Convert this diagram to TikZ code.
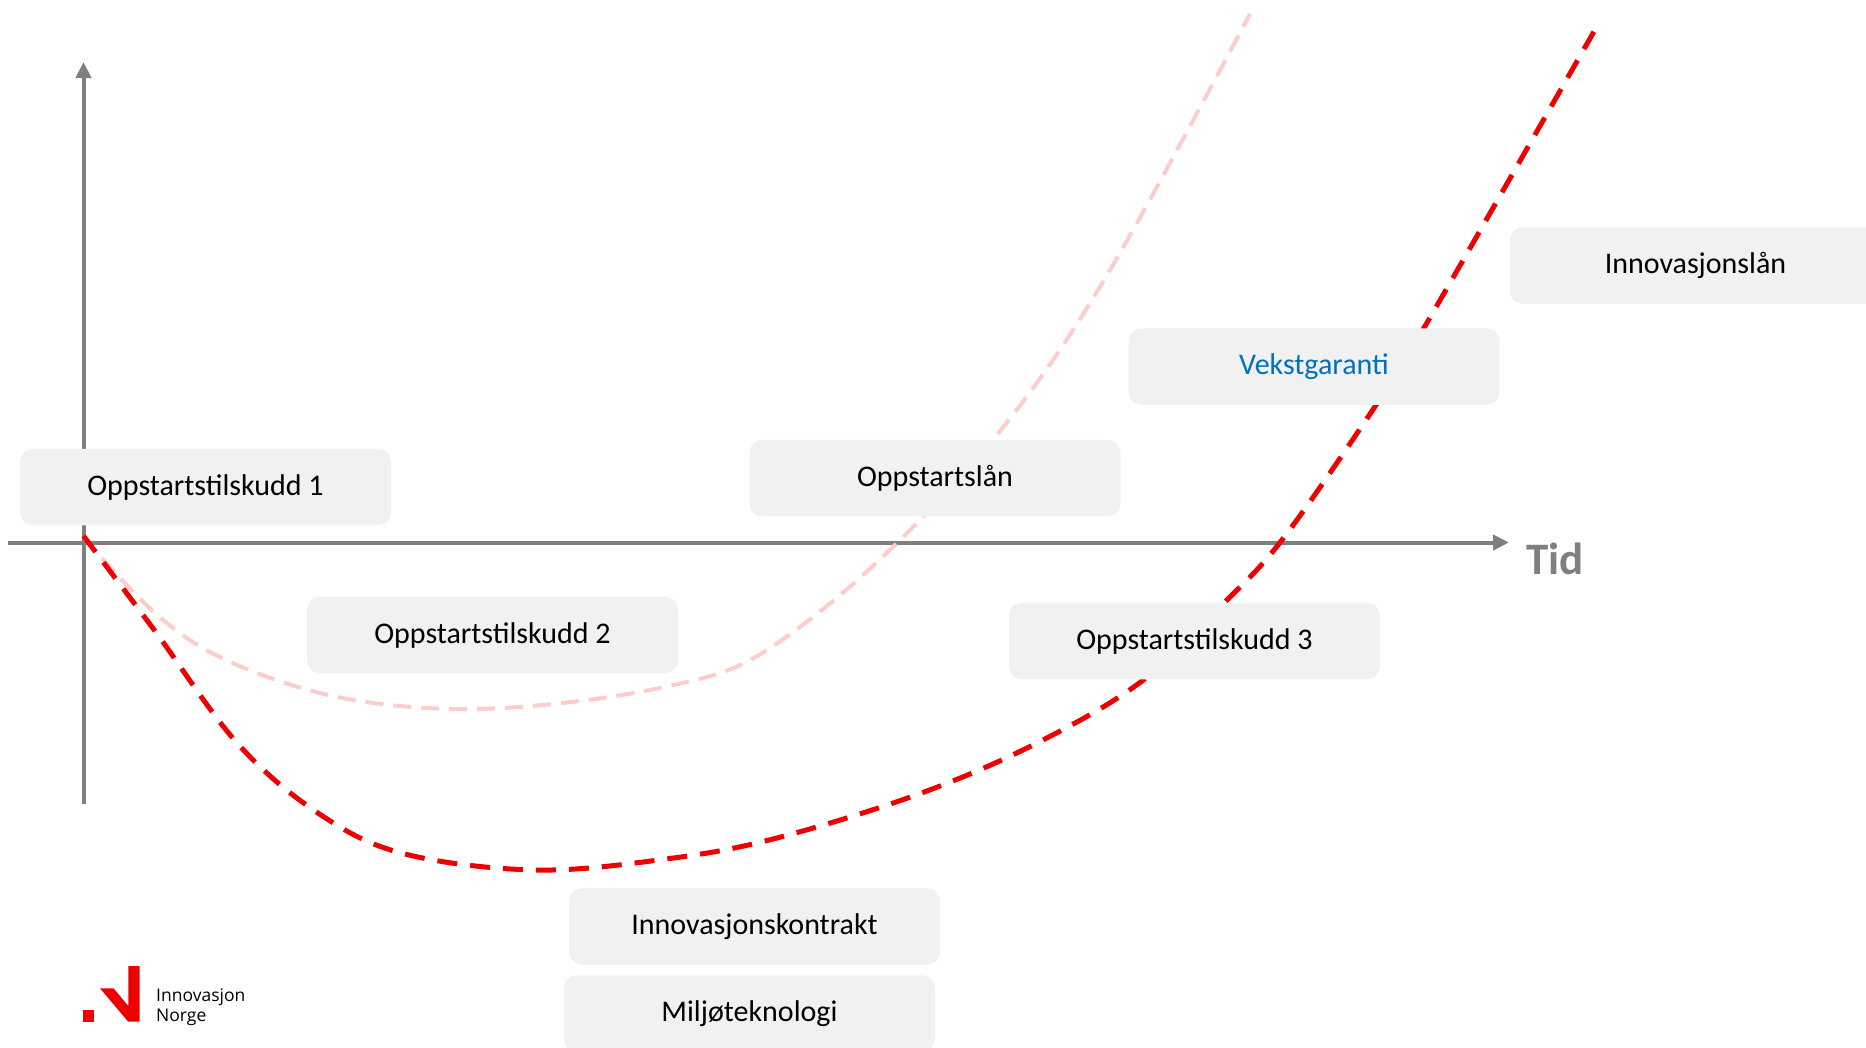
\documentclass[tikz,border=0pt]{standalone}
\usepackage{fontspec}
\setmainfont{Carlito}
\newfontfamily\logofont{Open Sans}
\usetikzlibrary{arrows.meta}
\definecolor{axisgray}{HTML}{7F7F7F}
\definecolor{boxgray}{HTML}{F1F1F1}
\definecolor{curvered}{HTML}{EE0000}
\definecolor{curvepink}{HTML}{FFCCCC}
\definecolor{linkblue}{HTML}{0070C0}
\tikzset{
  axisline/.style={draw=axisgray,line width=4pt,-{Triangle[length=16pt,width=15pt]}},
  redcurve/.style={draw=curvered,line width=5pt,dash pattern=on 20pt off 13pt},
  pinkcurve/.style={draw=curvepink,line width=4pt,dash pattern=on 18pt off 10pt},
  stepbox/.style={fill=boxgray,rounded corners=13pt,minimum width=371pt,minimum height=76.5pt,inner sep=0pt,text=black,font=\fontsize{30}{36}\selectfont},
  logotext/.style={anchor=base west,inner sep=0pt,font=\logofont\fontsize{17.5}{20}\selectfont,text=black},
}
\begin{document}
\begin{tikzpicture}[x=1pt,y=-1pt]
\useasboundingbox (0,0) rectangle (1866,1047);
\fill[white] (0,0) rectangle (1866,1047);
\coordinate (ytop) at (83.5,62);
\coordinate (ybot) at (83.5,804);
\coordinate (xleft) at (8,542.5);
\coordinate (xright) at (1509,542.5);
\draw[axisline] (ybot) -- (ytop);
\draw[axisline] (xleft) -- (xright);
\draw[pinkcurve] plot[smooth,tension=0.6] coordinates {(83.5,537) (155,613) (226,660) (333,696) (452,709) (571,702) (678,684) (750,660) (833,601) (916,524) (1000,431) (1071,333) (1142,214) (1250,14)};
\draw[redcurve] plot[smooth,tension=0.6] coordinates {(83.5,536) (155,631) (238,744) (321,815) (405,854) (536,870) (666,859) (773,839) (916,795) (1035,744) (1142,681) (1226,601) (1285,536) (1380,399) (1428,321) (1600,21)};
\node[stepbox] (s1) at (205.5,487) {Oppstartstilskudd 1};
\node[stepbox] (s2) at (492.5,635) {Oppstartstilskudd 2};
\node[stepbox] (lan) at (935,478) {Oppstartslån};
\node[stepbox] (s3) at (1194.5,641) {Oppstartstilskudd 3};
\node[stepbox,text=linkblue] (vg) at (1314,366.5) {Vekstgaranti};
\node[stepbox] (il) at (1695.5,265.5) {Innovasjonslån};
\node[stepbox] (ik) at (754.5,926.5) {Innovasjonskontrakt};
\node[stepbox] (mt) at (749.5,1013.5) {Miljøteknologi};
\node[inner sep=0pt,anchor=base west,text=axisgray,font=\fontsize{45}{50}\selectfont\bfseries] (tid) at (1526,574) {Tid};
\fill[curvered] (83,1010) rectangle (94.3,1021.7);
\fill[curvered] (100,988.3) -- (113.5,988.3) -- (128.3,1006) -- (128.3,966) -- (139.7,966) -- (139.7,1021.7) -- (128.3,1021.7) -- cycle;
\node[logotext] (lg1) at (156,1001) {Innovasjon};
\node[logotext] (lg2) at (156,1021) {Norge};
\end{tikzpicture}
\end{document}
